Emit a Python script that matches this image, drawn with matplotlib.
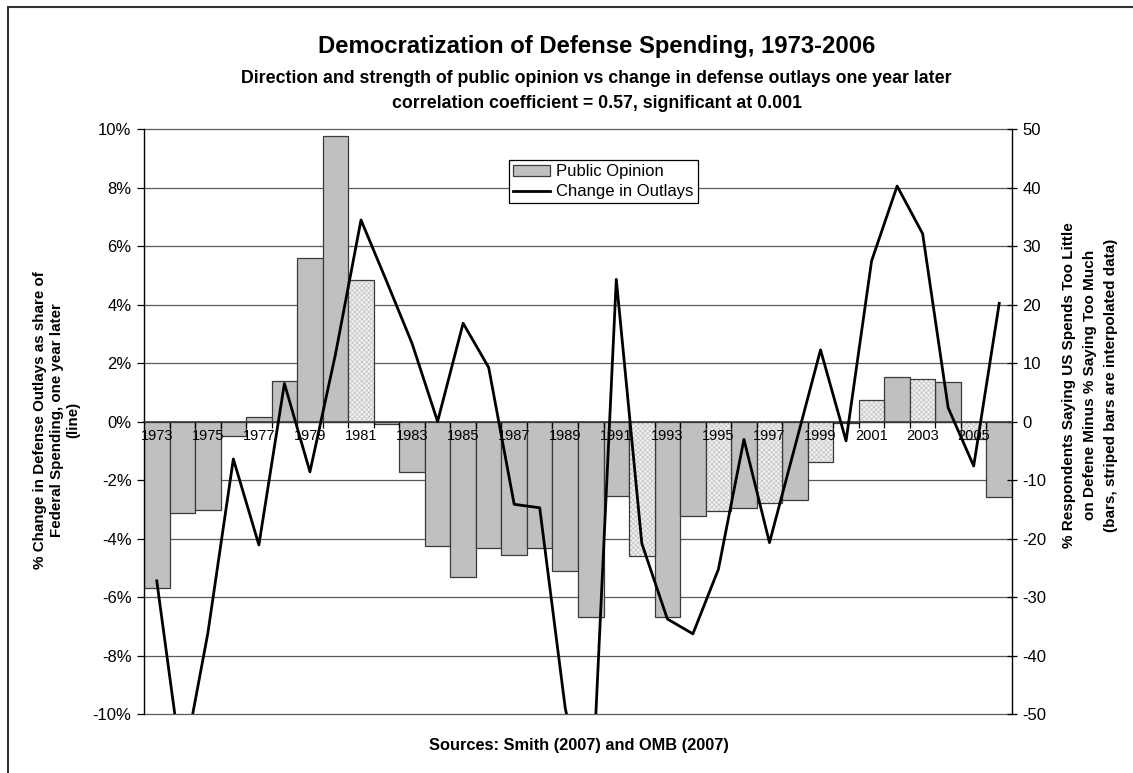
import matplotlib.pyplot as plt
from matplotlib.patches import Rectangle, Patch
from matplotlib.lines import Line2D

plt.rcParams['font.family'] = ['Liberation Sans', 'DejaVu Sans']
plt.rcParams['hatch.linewidth'] = 0.5
plt.rcParams['axes.unicode_minus'] = False

# data
years = list(range(1973, 2007))
opinion = [-28.4, -15.7, -15.1, -2.5, 0.8, 6.9, 27.9, 48.8, 24.2, -0.5,
           -8.7, -21.3, -26.5, -21.7, -22.8, -21.7, -25.6, -33.4, -12.7, -23.0,
           -33.4, -16.1, -15.3, -14.7, -14.0, -13.4, -7.0, -0.3, 3.6, 7.6,
           7.2, 6.8, -3.0, -12.9]
interpolated = [1981, 1992, 1995, 1997, 1999, 2001, 2003, 2005]
outlays = [-5.45, -11.9, -7.24, -1.28, -4.22, 1.3, -1.72, 2.3, 6.89, 4.8,
           2.67, 0.0, 3.36, 1.85, -2.83, -2.95, -9.8, -13.7, 4.86, -4.17,
           -6.75, -7.26, -5.05, -0.61, -4.14, -0.85, 2.45, -0.66, 5.49, 8.05,
           6.42, 0.47, -1.52, 4.04]
left_ticks = list(range(-10, 11, 2))
right_ticks = list(range(-50, 51, 10))

fig = plt.figure(figsize=(11.33, 7.73), dpi=100)
ax = fig.add_axes([0.1271, 0.0763, 0.7661, 0.7568])
ax2 = ax.twinx()

x = list(range(len(years)))
solid_x = [i for i, y in enumerate(years) if y not in interpolated]
solid_v = [opinion[i] for i in solid_x]
interp_x = [i for i, y in enumerate(years) if y in interpolated]
interp_v = [opinion[i] for i in interp_x]

ax.bar(solid_x, solid_v, width=1.0, color='#c0c0c0', edgecolor='#3a3a3a',
       linewidth=0.9, zorder=1)
ax.bar(interp_x, interp_v, width=1.0, color='#f0f0f0', edgecolor='#c4c4c4',
       hatch='xxxxxxx', linewidth=0, zorder=1)
ax.bar(interp_x, interp_v, width=1.0, fill=False, edgecolor='#3a3a3a',
       linewidth=0.9, zorder=1.1)

for v in right_ticks:
    ax.axhline(v, color='#5a5a5a', lw=0.9, zorder=0.5, clip_on=False)

ax.set_xlim(-0.5, len(years) - 0.5)
ax.set_ylim(-50, 50)
ax.yaxis.tick_right()
ax.set_yticks(right_ticks)
ax.tick_params(axis='y', direction='inout', length=7, width=0.9,
               labelsize=12, pad=4)

ax.set_xticks(x[::2])
ax.set_xticklabels([str(y) for y in years[::2]])
ax.set_xticks([i + 0.5 for i in x[:-1]], minor=True)
ax.tick_params(axis='x', which='major', length=0, labelsize=10.5, pad=5.5)
ax.tick_params(axis='x', which='minor', length=4, width=0.9, direction='out')

for s in ['left', 'right']:
    ax.spines[s].set_color('black')
    ax.spines[s].set_linewidth(1.0)
ax.spines['top'].set_visible(False)
ax.spines['bottom'].set_position(('data', 0))
ax.spines['bottom'].set_color('#3a3a3a')
ax.spines['bottom'].set_linewidth(1.2)

ax2.plot(x, outlays, color='black', lw=2.0, zorder=3)
ax2.set_ylim(-10, 10)
ax2.yaxis.tick_left()
ax2.set_yticks(left_ticks)
ax2.set_yticklabels([f"{v}%" for v in left_ticks])
ax2.tick_params(axis='y', direction='out', length=5, width=0.9,
                labelsize=12, pad=4)
for s in ax2.spines.values():
    s.set_visible(False)

handles = [Patch(facecolor='#c0c0c0', edgecolor='#3a3a3a', linewidth=0.9),
           Line2D([], [], color='black', lw=2.0)]
leg = ax2.legend(handles, ['Public Opinion', 'Change in Outlays'],
                 loc='upper left', bbox_to_anchor=(0.4205, 0.947),
                 fontsize=12, frameon=True, fancybox=False, shadow=False,
                 handlelength=2.2, handleheight=0.6, handletextpad=0.4,
                 labelspacing=0.3, borderpad=0.25, borderaxespad=0)
leg.get_frame().set_edgecolor('black')
leg.get_frame().set_linewidth(0.9)
leg.get_frame().set_alpha(1)

fig.text(0.5265, 0.940, 'Democratization of Defense Spending, 1973-2006',
         ha='center', va='center', fontsize=17.2, fontweight='bold')
fig.text(0.5265, 0.898,
         'Direction and strength of public opinion vs change in defense outlays one year later',
         ha='center', va='center', fontsize=12.8, fontweight='bold')
fig.text(0.5265, 0.866, 'correlation coefficient = 0.57, significant at 0.001',
         ha='center', va='center', fontsize=12.8, fontweight='bold')
fig.text(0.511, 0.036, 'Sources: Smith (2007) and OMB (2007)',
         ha='center', va='center', fontsize=11.8, fontweight='bold')

fig.text(0.0503, 0.4567,
         '% Change in Defense Outlays as share of\nFederal Spending, one year later\n(line)',
         ha='center', va='center', rotation=90, fontsize=10.9,
         fontweight='bold', multialignment='center', linespacing=1.25)
fig.text(0.962, 0.502,
         '% Respondents Saying US Spends Too Little\non Defene Minus % Saying Too Much\n(bars, striped bars are interpolated data)',
         ha='center', va='center', rotation=90, fontsize=11,
         fontweight='bold', multialignment='center', linespacing=1.6)

fig.patches.append(Rectangle((8 / 1133, -0.1), 1.2, 1.1 - 7 / 773,
                             transform=fig.transFigure, fill=False,
                             edgecolor='#333333', linewidth=1.5))

fig.savefig('out.png', dpi=100)
